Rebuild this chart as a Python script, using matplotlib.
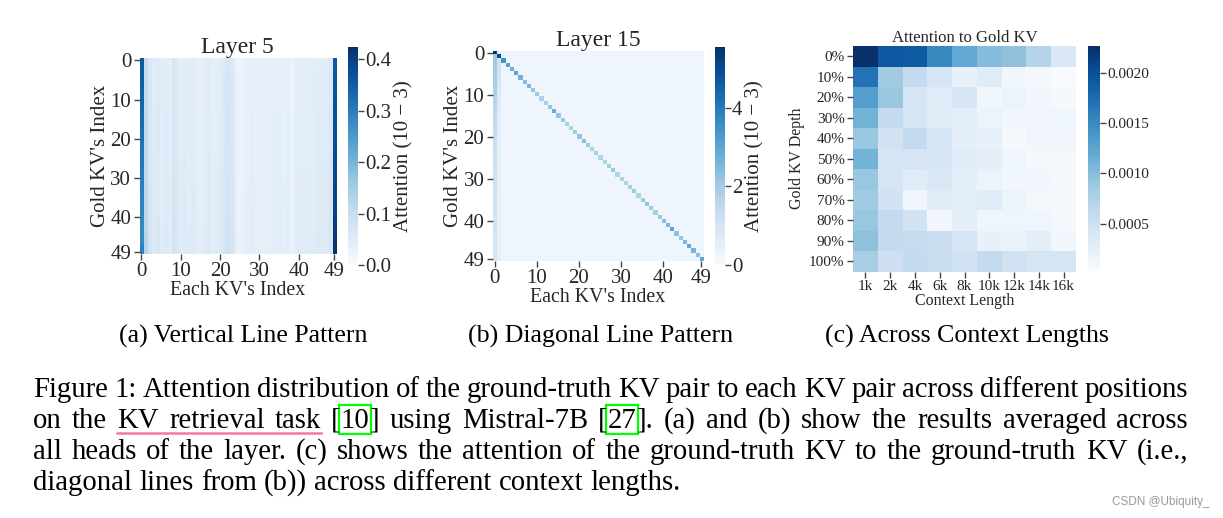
import numpy as np
import matplotlib
matplotlib.use("Agg")
import matplotlib.pyplot as plt
from matplotlib.lines import Line2D
from matplotlib.patches import Rectangle

# ---------------- data ----------------
# Panel (a): Layer 5 (values in 1e-3)
l5_col_profile = [0.36, 0.11, 0.065, 0.05, 0.055, 0.045, 0.05, 0.045, 0.07, 0.06,
                  0.045, 0.05, 0.045, 0.05, 0.04, 0.035, 0.045, 0.05, 0.04, 0.045,
                  0.05, 0.065, 0.07, 0.06, 0.03, 0.025, 0.03, 0.035, 0.04, 0.035,
                  0.035, 0.03, 0.035, 0.035, 0.04, 0.04, 0.035, 0.04, 0.025, 0.04,
                  0.045, 0.045, 0.045, 0.045, 0.045, 0.05, 0.05, 0.05, 0.06, 0.37]
l5_row_factor = [0.95, 0.95, 0.96, 0.96, 0.97, 0.97, 0.97, 0.98, 0.98, 0.98,
                 0.99, 0.99, 0.99, 1.00, 1.00, 1.00, 1.00, 1.01, 1.01, 1.01,
                 1.01, 1.02, 1.02, 1.02, 1.02, 1.03, 1.03, 1.03, 1.04, 1.04,
                 1.04, 1.05, 1.05, 1.05, 1.06, 1.06, 1.07, 1.07, 1.08, 1.08,
                 1.09, 1.09, 1.10, 1.10, 1.11, 1.12, 1.12, 1.13, 1.14, 1.15]
l5_first_col = [0.36, 0.36, 0.355, 0.355, 0.35, 0.35, 0.35, 0.345, 0.345, 0.34,
                0.34, 0.34, 0.335, 0.335, 0.33, 0.33, 0.33, 0.325, 0.325, 0.32,
                0.32, 0.32, 0.315, 0.315, 0.31, 0.31, 0.31, 0.305, 0.305, 0.30,
                0.30, 0.30, 0.30, 0.295, 0.295, 0.29, 0.29, 0.29, 0.29, 0.285,
                0.285, 0.285, 0.28, 0.28, 0.28, 0.28, 0.28, 0.285, 0.29, 0.29]
l5_last_col = [0.36, 0.36, 0.36, 0.36, 0.36, 0.365, 0.365, 0.365, 0.365, 0.365,
               0.37, 0.37, 0.37, 0.37, 0.37, 0.37, 0.37, 0.375, 0.375, 0.375,
               0.375, 0.375, 0.375, 0.38, 0.38, 0.38, 0.38, 0.38, 0.38, 0.385,
               0.385, 0.385, 0.385, 0.39, 0.39, 0.39, 0.39, 0.395, 0.395, 0.395,
               0.40, 0.40, 0.40, 0.405, 0.405, 0.41, 0.41, 0.415, 0.42, 0.424]
l5_vmax = 0.424

# Panel (b): Layer 15 (values in 1e-3)
l15_diag = [5.56, 5.0, 3.4, 3.1, 2.7, 3.0, 2.7, 2.4, 2.6, 2.2,
            2.0, 1.8, 1.9, 2.2, 2.8, 2.2, 2.1, 1.9, 1.8, 2.0,
            2.2, 2.3, 2.0, 1.8, 1.9, 1.7, 1.8, 1.9, 2.1, 1.7,
            1.8, 1.7, 1.9, 2.0, 1.8, 2.0, 2.2, 2.0, 1.9, 2.1,
            2.3, 2.5, 3.0, 2.3, 2.2, 2.5, 2.9, 2.6, 2.3, 3.0]
l15_col0 = [5.56, 2.1, 2.1, 2.0, 2.0, 2.0, 1.9, 1.9, 1.9, 1.8,
            1.8, 1.7, 1.7, 1.6, 1.6, 1.5, 1.5, 1.4, 1.4, 1.4,
            1.3, 1.3, 1.3, 1.2, 1.2, 1.2, 1.2, 1.1, 1.1, 1.1,
            1.1, 1.1, 1.1, 1.1, 1.0, 1.0, 1.0, 1.0, 1.0, 1.0,
            1.0, 1.0, 1.0, 0.95, 0.95, 0.95, 0.95, 0.95, 0.95, 0.95]
l15_col1 = [0.6, 5.0, 1.1, 1.1, 1.0, 1.0, 0.9, 0.9, 0.8, 0.8,
            0.7, 0.7, 0.7, 0.65, 0.65, 0.6, 0.6, 0.6, 0.55, 0.55,
            0.55, 0.5, 0.5, 0.5, 0.5, 0.5, 0.5, 0.45, 0.45, 0.45,
            0.45, 0.45, 0.45, 0.45, 0.45, 0.45, 0.45, 0.45, 0.45, 0.45,
            0.45, 0.45, 0.45, 0.45, 0.45, 0.45, 0.45, 0.45, 0.45, 0.5]
l15_background = 0.25
l15_vmax = 5.56

# Panel (c): attention to gold KV
depth_labels = ["0%", "10%", "20%", "30%", "40%", "50%", "60%", "70%", "80%", "90%", "100%"]
length_labels = ["1k", "2k", "4k", "6k", "8k", "10k", "12k", "14k", "16k"]
gold_attn = [
    [0.00227, 0.00192, 0.00190, 0.00150, 0.00120, 0.00100, 0.00095, 0.00070, 0.00035],
    [0.00170, 0.00085, 0.00060, 0.00038, 0.00020, 0.00030, 0.00010, 0.00008, 0.00003],
    [0.00130, 0.00090, 0.00040, 0.00030, 0.00038, 0.00010, 0.00015, 0.00010, 0.00005],
    [0.00110, 0.00060, 0.00040, 0.00030, 0.00025, 0.00015, 0.00010, 0.00010, 0.00012],
    [0.00090, 0.00045, 0.00060, 0.00038, 0.00025, 0.00020, 0.00005, 0.00010, 0.00010],
    [0.00110, 0.00040, 0.00040, 0.00040, 0.00030, 0.00025, 0.00012, 0.00008, 0.00008],
    [0.00090, 0.00040, 0.00030, 0.00035, 0.00025, 0.00015, 0.00010, 0.00010, 0.00007],
    [0.00085, 0.00045, 0.00010, 0.00030, 0.00025, 0.00030, 0.00015, 0.00007, 0.00007],
    [0.00090, 0.00060, 0.00045, 0.00010, 0.00025, 0.00012, 0.00012, 0.00012, 0.00007],
    [0.00095, 0.00060, 0.00058, 0.00055, 0.00040, 0.00020, 0.00018, 0.00025, 0.00010],
    [0.00080, 0.00050, 0.00060, 0.00055, 0.00045, 0.00060, 0.00045, 0.00040, 0.00040],
]

kv_ticks = [0, 10, 20, 30, 40, 49]

subcaptions = ["(a) Vertical Line Pattern", "(b) Diagonal Line Pattern", "(c) Across Context Lengths"]
caption_lines = [
    "Figure 1: Attention distribution of the ground-truth KV pair to each KV pair across different positions",
    "on the KV retrieval task [10] using Mistral-7B [27]. (a) and (b) show the results averaged across",
    "all heads of the layer. (c) shows the attention of the ground-truth KV to the ground-truth KV (i.e.,",
    "diagonal lines from (b)) across different context lengths.",
]
underlined = ["KV", "retrieval", "task"]
boxed_refs = ["10", "27"]

# ---------------- build matrices ----------------
n = 50
l5 = np.outer(np.array(l5_row_factor), np.array(l5_col_profile))
l5[:, 0] = l5_first_col
l5[:, -1] = l5_last_col

l15 = np.full((n, n), l15_background)
l15[:, 0] = l15_col0
l15[:, 1] = l15_col1
l15[np.arange(n), np.arange(n)] = l15_diag

gold = np.array(gold_attn)

# ---------------- figure ----------------
plt.rcParams['font.family'] = ['Liberation Serif', 'DejaVu Serif']
TXT = '#262626'
W, H = 1223, 518
fig = plt.figure(figsize=(W / 100, H / 100), dpi=100)


def ax_px(x0, y0, x1, y1):
    return fig.add_axes([x0 / W, 1 - y1 / H, (x1 - x0) / W, (y1 - y0) / H])


def style_ax(ax, size):
    for s in ax.spines.values():
        s.set_visible(False)
    ax.tick_params(length=4, width=1, color='#444444', labelsize=size, labelcolor=TXT, pad=2)


def colorbar(im, cax, ticks, fmt, size, label=None):
    cb = fig.colorbar(im, cax=cax)
    cb.outline.set_visible(False)
    cb.set_ticks(ticks)
    cb.set_ticklabels([fmt % t for t in ticks])
    cb.ax.tick_params(length=4, width=1, color='#444444', labelsize=size, labelcolor=TXT, pad=1)
    if label:
        cb.set_label(label, fontsize=size, color=TXT, labelpad=2)
    return cb


# Panel a
ax1 = ax_px(139.5, 58.5, 336, 254)
im1 = ax1.imshow(l5, cmap='Blues', vmin=0, vmax=l5_vmax, aspect='auto', interpolation='nearest')
style_ax(ax1, 15)
ax1.set_xticks(kv_ticks)
ax1.set_yticks(kv_ticks)
ax1.set_title("Layer 5", fontsize=17, color=TXT, pad=3)
ax1.set_xlabel("Each KV's Index", fontsize=14.3, color=TXT, labelpad=0)
ax1.set_ylabel("Gold KV's Index", fontsize=15, color=TXT, labelpad=0)
cax1 = ax_px(348, 46.7, 358, 265)
colorbar(im1, cax1, [0.0, 0.1, 0.2, 0.3, 0.4], "%.1f", 15, "Attention (10 \u2212 3)")

# Panel b
ax2 = ax_px(492.7, 50.7, 703, 260.7)
im2 = ax2.imshow(l15, cmap='Blues', vmin=0, vmax=l15_vmax, aspect='auto', interpolation='nearest')
style_ax(ax2, 15)
ax2.set_xticks(kv_ticks)
ax2.set_yticks(kv_ticks)
ax2.set_title("Layer 15", fontsize=17, color=TXT, pad=3)
ax2.set_xlabel("Each KV's Index", fontsize=14.3, color=TXT, labelpad=0)
ax2.set_ylabel("Gold KV's Index", fontsize=15, color=TXT, labelpad=0)
cax2 = ax_px(715, 46.7, 725, 265)
colorbar(im2, cax2, [0, 2, 4], "%d", 15, "Attention (10 \u2212 3)")

# Panel c
ax3 = ax_px(853, 45.7, 1076, 271.7)
im3 = ax3.imshow(gold, cmap='Blues', vmin=gold.min(), vmax=gold.max(), aspect='auto', interpolation='nearest')
style_ax(ax3, 11)
ax3.set_xticks(range(len(length_labels)))
ax3.set_xticklabels(length_labels)
ax3.set_yticks(range(len(depth_labels)))
ax3.set_yticklabels(depth_labels)
ax3.set_title("Attention to Gold KV", fontsize=12, color=TXT, pad=3)
ax3.set_xlabel("Context Length", fontsize=11.5, color=TXT, labelpad=0)
ax3.set_ylabel("Gold KV Depth", fontsize=11.5, color=TXT, labelpad=3)
cax3 = ax_px(1088, 46, 1100, 270.7)
colorbar(im3, cax3, [0.0005, 0.0010, 0.0015, 0.0020], "%.4f", 11)

# Sub captions
for cx, s in zip([243, 601, 967], subcaptions):
    fig.text(cx / W, 1 - 343 / H, s, fontsize=18.6, ha='center', va='baseline', color='black')

# Main caption (justified)
renderer = fig.canvas.get_renderer()
CAP_SIZE = 20.7
x_left, x_right = 33, 1188
baselines = [397, 428, 459, 490]


def width_of(s):
    t = fig.text(0, 0, s, fontsize=CAP_SIZE)
    w = t.get_window_extent(renderer).width
    t.remove()
    return w


space_w = width_of("a a") - width_of("aa")


def segments(word):
    for r in boxed_refs:
        tag = "[" + r + "]"
        if word.startswith(tag):
            return [("[", None), (r, 'box'), (word[len(tag) - 1:], None)]
    return [(word, None)]


for li, (line, yb) in enumerate(zip(caption_lines, baselines)):
    words = line.split(" ")
    segs = [segments(w) for w in words]
    widths = [[width_of(s) for s, _ in sg] for sg in segs]
    total = sum(sum(w) for w in widths)
    last = li == len(caption_lines) - 1
    gap = space_w if last else (x_right - x_left - total) / (len(words) - 1)
    x = x_left
    ul_start = ul_end = None
    for wi, (word, sg, ws) in enumerate(zip(words, segs, widths)):
        if li == 1 and word == underlined[0] and ul_start is None:
            ul_start = x
        for (s, kind), w in zip(sg, ws):
            fig.text(x / W, 1 - yb / H, s, fontsize=CAP_SIZE, ha='left', va='baseline', color='black')
            if kind == 'box':
                fig.patches.append(Rectangle(((x - 1.5) / W, 1 - (yb + 6) / H), (w + 3) / W, 29 / H,
                                             transform=fig.transFigure, fill=False,
                                             edgecolor='#00ff00', linewidth=1.6))
            x += w
        if li == 1 and word == underlined[-1] and ul_start is not None and ul_end is None:
            ul_end = x
        x += gap
    if ul_start is not None and ul_end is not None:
        fig.lines.append(Line2D([ul_start / W, ul_end / W], [1 - (yb + 4.5) / H] * 2,
                                transform=fig.transFigure, color='#f07c9a', linewidth=1.8))

# Watermark
fig.text(1210 / W, 1 - 505 / H, "CSDN @Ubiquity_", fontsize=8.5, family='Liberation Sans',
         ha='right', va='baseline', color='#9a9a9a')

fig.savefig("out.png", dpi=100)
